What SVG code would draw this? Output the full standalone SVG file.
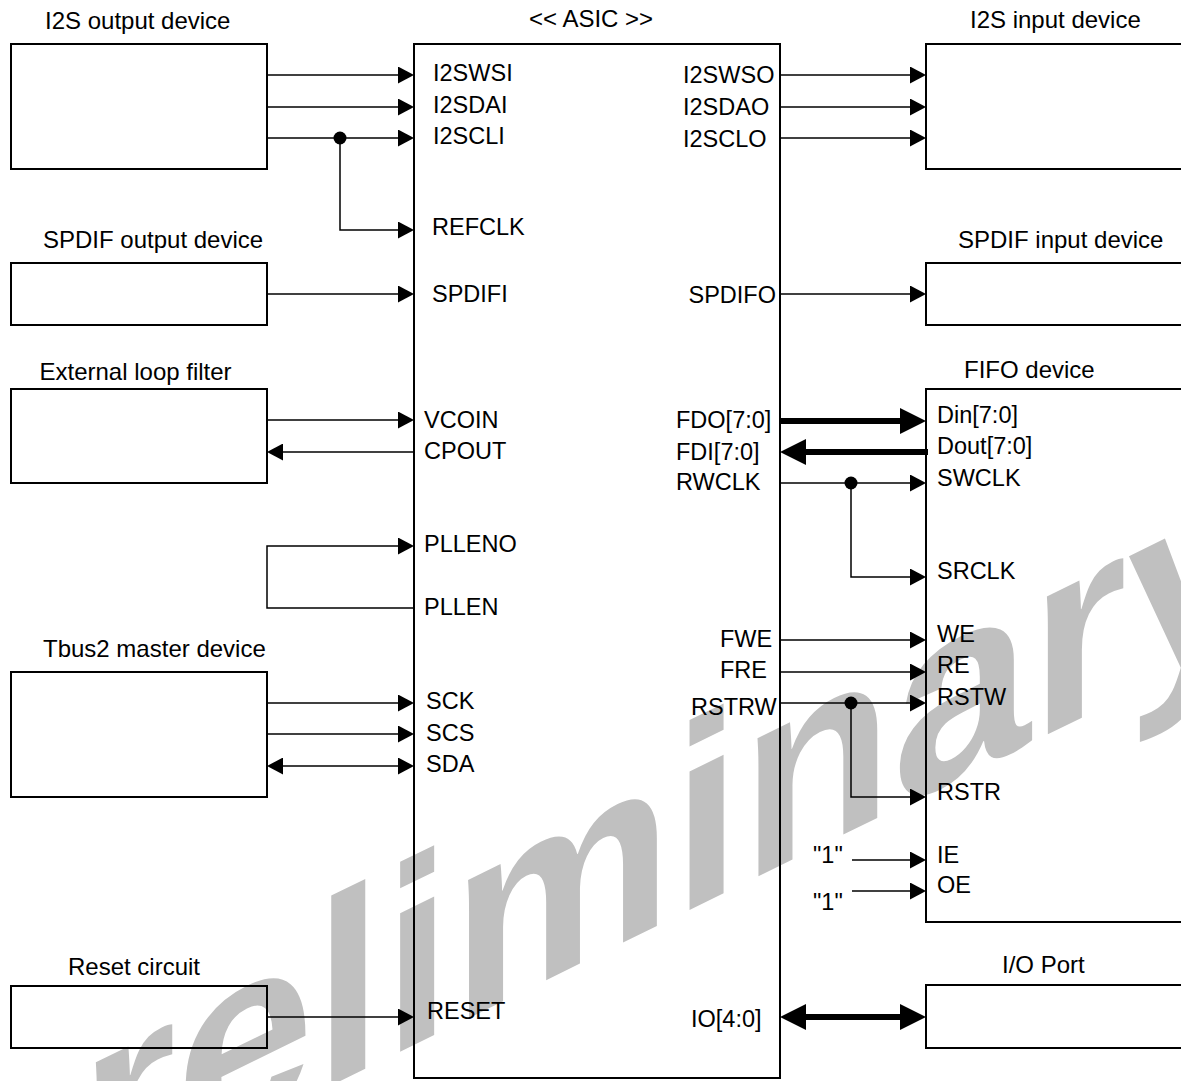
<svg xmlns="http://www.w3.org/2000/svg" width="1181" height="1081" viewBox="0 0 1181 1081">
<style>
text{font-family:"Liberation Sans",Arial,sans-serif;fill:#000}
.t{font-size:24px}
.p{font-size:23.5px}
.box{fill:none;stroke:#000;stroke-width:2}
.w{fill:none;stroke:#000;stroke-width:1.5}
.a{marker-end:url(#ah)}
.b{fill:none;stroke:#000;stroke-width:6;marker-end:url(#bh)}
.wm{font-size:100px;font-weight:bold;fill:#c0c0c0}
</style>
<defs>
<marker id="ah" markerUnits="userSpaceOnUse" markerWidth="16" markerHeight="17" refX="0" refY="8.5" orient="auto-start-reverse" viewBox="0 0 16 17"><path d="M0,0 L16,8.5 L0,17 Z" fill="#000"/></marker>
<marker id="bh" markerUnits="userSpaceOnUse" markerWidth="26" markerHeight="26" refX="0" refY="13" orient="auto-start-reverse" viewBox="0 0 26 26"><path d="M0,0 L26,13 L0,26 Z" fill="#000"/></marker>
</defs>
<rect width="1181" height="1081" fill="#fff"/>
<text class="wm" transform="matrix(2.48,-1.215,0,2.62,-72,1283)">preliminary</text>

<g id="i2s-out"><rect class="box" x="11" y="44" width="256" height="125"/><text class="t" x="45" y="29">I2S output device</text></g>
<g id="spdif-out"><rect class="box" x="11" y="263" width="256" height="62"/><text class="t" x="43" y="248">SPDIF output device</text></g>
<g id="loop-filter"><rect class="box" x="11" y="389" width="256" height="94"/><text class="t" x="39.5" y="380">External loop filter</text></g>
<g id="tbus2"><rect class="box" x="11" y="672" width="256" height="125"/><text class="t" x="43" y="657">Tbus2 master device</text></g>
<g id="reset"><rect class="box" x="11" y="986" width="256" height="62"/><text class="t" x="68" y="975">Reset circuit</text></g>
<g id="i2s-in"><rect class="box" x="926" y="44" width="270" height="125"/><text class="t" x="970" y="28">I2S input device</text></g>
<g id="spdif-in"><rect class="box" x="926" y="263" width="270" height="62"/><text class="t" x="958" y="248">SPDIF input device</text></g>
<g id="fifo"><rect class="box" x="926" y="389" width="270" height="533"/><text class="t" x="964" y="378">FIFO device</text>
<g class="p"><text x="937" y="423">Din[7:0]</text><text x="937" y="454">Dout[7:0]</text><text x="937" y="486">SWCLK</text><text x="937" y="579">SRCLK</text><text x="937" y="642">WE</text><text x="937" y="673">RE</text><text x="937" y="705">RSTW</text><text x="937" y="800">RSTR</text><text x="937" y="863">IE</text><text x="937" y="893">OE</text></g></g>
<g id="io-port"><rect class="box" x="926" y="985" width="270" height="63"/><text class="t" x="1002" y="973">I/O Port</text></g>
<g id="asic"><rect class="box" x="414" y="44" width="366" height="1034"/><text class="t" x="529" y="27">&lt;&lt; ASIC &gt;&gt;</text>
<g class="p">
<text x="433" y="81">I2SWSI</text><text x="433" y="113">I2SDAI</text><text x="433" y="143.5">I2SCLI</text><text x="432" y="235">REFCLK</text><text x="432" y="302">SPDIFI</text>
<text x="424" y="428">VCOIN</text><text x="424" y="459">CPOUT</text><text x="424" y="552">PLLENO</text><text x="424" y="615">PLLEN</text>
<text x="426" y="709">SCK</text><text x="426" y="741">SCS</text><text x="426" y="772">SDA</text><text x="427" y="1019">RESET</text>
<text x="683" y="83">I2SWSO</text><text x="683" y="115">I2SDAO</text><text x="683" y="147">I2SCLO</text><text x="688.5" y="302.5">SPDIFO</text>
<text x="676" y="428">FDO[7:0]</text><text x="676" y="460">FDI[7:0]</text><text x="676" y="490">RWCLK</text>
<text x="720" y="647">FWE</text><text x="720" y="678">FRE</text><text x="691" y="715">RSTRW</text><text x="691" y="1027">IO[4:0]</text>
</g></g>
<g id="consts" class="p"><text x="813" y="863">"1"</text><text x="813" y="910">"1"</text></g>

<g id="connectors">
<path class="w a" d="M267,75 H398"/>
<path class="w a" d="M267,107 H398"/>
<path class="w a" d="M267,138 H398"/>
<path class="w a" d="M340,138 V230 H398"/>
<circle cx="340" cy="138" r="6.5"/>
<path class="w a" d="M267,294 H398"/>
<path class="w a" d="M267,420 H398"/>
<path class="w a" d="M414,452 H283"/>
<path class="w a" d="M414,608 H267 V546 H398"/>
<path class="w a" d="M267,703 H398"/>
<path class="w a" d="M267,734 H398"/>
<path class="w a" d="M283,766 H398" style="marker-start:url(#ah)"/>
<path class="w a" d="M267,1017 H398"/>
<path class="w a" d="M780,75 H910"/>
<path class="w a" d="M780,107 H910"/>
<path class="w a" d="M780,138 H910"/>
<path class="w a" d="M780,294 H910"/>
<path class="b" d="M780,421 H900"/>
<path class="b" d="M928,452 H806"/>
<path class="w a" d="M780,483 H910"/>
<path class="w a" d="M851,483 V577 H910"/>
<circle cx="851" cy="483" r="6.5"/>
<path class="w a" d="M780,640 H910"/>
<path class="w a" d="M780,672 H910"/>
<path class="w a" d="M780,703 H910"/>
<path class="w a" d="M851,703 V797 H910"/>
<circle cx="851" cy="703" r="6.5"/>
<path class="w a" d="M852,860 H910"/>
<path class="w a" d="M852,891 H910"/>
<path class="b" d="M806,1017 H900" style="marker-start:url(#bh)"/>
</g>
</svg>
